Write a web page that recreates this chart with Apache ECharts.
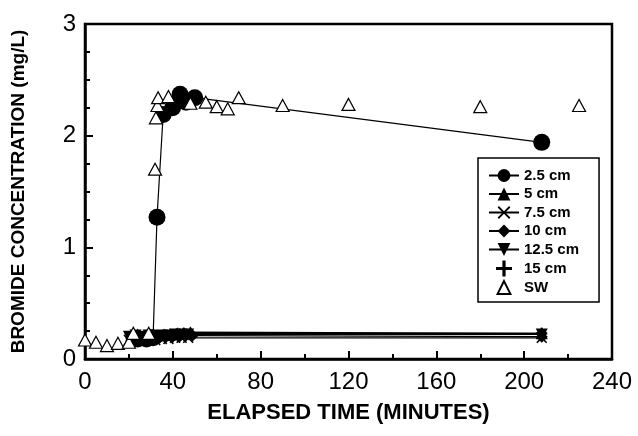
<!DOCTYPE html>
<html><head><meta charset="utf-8">
<script src="https://cdn.jsdelivr.net/npm/echarts@6/dist/echarts.min.js"></script>
<style>html,body{margin:0;padding:0;background:#fff}#c{width:638px;height:436px}</style>
</head><body><div id="c"></div>
<script>
// ---- data (time in minutes, bromide in mg/L) ----
const xTicks = [0, 40, 80, 120, 160, 200, 240];
const yTicks = [0, 1, 2, 3];
const seriesNames = ['2.5 cm', '5 cm', '7.5 cm', '10 cm', '12.5 cm', '15 cm', 'SW'];
const d25 = [[24,0.18],[28,0.18],[31,0.19],[32.8,1.27],[35.6,2.19],[39.9,2.25],[43.3,2.37],[46,2.30],[50,2.34],[208,1.94]];
const d50 = [[21,0.21],[24,0.22],[27,0.21],[30,0.22],[33,0.21],[36,0.22],[39,0.22],[42,0.23],[45,0.23],[48,0.24],[208,0.23]];
const d75 = [[20,0.17],[23,0.16],[26,0.17],[29,0.18],[32,0.17],[35,0.18],[38,0.18],[41,0.19],[44,0.19],[47,0.19],[208,0.19]];
const d100 = [[22,0.18],[25,0.19],[28,0.18],[31,0.19],[34,0.19],[37,0.20],[40,0.20],[43,0.20],[46,0.21],[49,0.21],[208,0.20]];
const d125 = [[20,0.20],[23,0.21],[26,0.20],[29,0.21],[32,0.20],[35,0.21],[38,0.21],[41,0.22],[44,0.22],[47,0.22],[208,0.22]];
const d150 = [[21,0.19],[24,0.20],[27,0.19],[30,0.20],[33,0.21],[36,0.21],[39,0.22],[42,0.22],[45,0.23],[48,0.23],[208,0.23]];
const dSW = [[0,0.17],[5,0.15],[10,0.12],[15,0.14],[20,0.15],[22,0.23],[29,0.23],[31.9,1.70],[32.3,2.16],[33,2.27],[33.3,2.34],[38,2.35],[48,2.29],[55,2.30],[60,2.26],[65,2.24],[70,2.34],[90,2.27],[120,2.28],[180,2.26],[225,2.27]];

const FONT = '"Liberation Sans", Arial, sans-serif';
const PLUS = 'path://M4,0H6V4H10V6H6V10H4V6H0V4H4Z';
const XMARK = 'path://M0,1L1,0L5,4L9,0L10,1L6,5L10,9L9,10L5,6L1,10L0,9L4,5Z';

function lineSeries(name, data, symbol, size, extra) {
  return Object.assign({
    name: name, type: 'line', data: data, symbol: symbol, symbolSize: size,
    showAllSymbol: true, animation: false,
    lineStyle: { color: '#000', width: 1.2 },
    itemStyle: { color: '#000', borderColor: '#000', borderWidth: 0 }
  }, extra || {});
}

const chart = echarts.init(document.getElementById('c'));
chart.setOption({
  animation: false,
  backgroundColor: '#fff',
  grid: { left: 85, right: 26, top: 24, bottom: 77, show: true, borderColor: '#000', borderWidth: 2.5 },
  xAxis: {
    type: 'value', min: xTicks[0], max: xTicks[xTicks.length - 1], interval: 40,
    name: 'ELAPSED TIME (MINUTES)', nameLocation: 'middle', nameGap: 43,
    nameTextStyle: { fontFamily: FONT, fontSize: 22, fontWeight: 'bold', color: '#000' },
    axisLine: { lineStyle: { color: '#000', width: 2.5 } },
    axisTick: { inside: true, length: 8, lineStyle: { color: '#000', width: 2 } },
    minorTick: { show: true, splitNumber: 2, length: 5, lineStyle: { color: '#000', width: 2 } },
    splitLine: { show: false },
    axisLabel: { fontFamily: FONT, fontSize: 24, color: '#000', margin: 11 }
  },
  yAxis: {
    type: 'value', min: yTicks[0], max: yTicks[yTicks.length - 1], interval: 1,
    name: 'BROMIDE CONCENTRATION (mg/L)', nameLocation: 'middle', nameGap: 57,
    nameTextStyle: { fontFamily: FONT, fontSize: 19, fontWeight: 'bold', color: '#000' },
    axisLine: { lineStyle: { color: '#000', width: 2.5 } },
    axisTick: { inside: true, length: 8, lineStyle: { color: '#000', width: 2 } },
    minorTick: { show: true, splitNumber: 4, length: 5, lineStyle: { color: '#000', width: 2 } },
    splitLine: { show: false },
    axisLabel: { fontFamily: FONT, fontSize: 24, color: '#000', margin: 9 }
  },
  legend: {
    orient: 'vertical', left: 478, top: 158,
    padding: [10, 20, 7, 10], itemWidth: 30, itemHeight: 16, itemGap: 3.5,
    backgroundColor: '#fff', borderColor: '#000', borderWidth: 1.5, borderRadius: 0,
    textStyle: { fontFamily: FONT, fontSize: 15, fontWeight: 'bold', color: '#000' },
    data: [
      { name: seriesNames[0] }, { name: seriesNames[1] }, { name: seriesNames[2] },
      { name: seriesNames[3] }, { name: seriesNames[4] },
      { name: seriesNames[5], icon: PLUS, itemStyle: { color: '#000' } },
      { name: seriesNames[6] }
    ]
  },
  series: [
    lineSeries(seriesNames[0], d25, 'circle', 17),
    lineSeries(seriesNames[1], d50, 'triangle', 12),
    lineSeries(seriesNames[2], d75, XMARK, 11),
    lineSeries(seriesNames[3], d100, 'diamond', 12),
    lineSeries(seriesNames[4], d125, 'triangle', 12, { symbolRotate: 180 }),
    lineSeries(seriesNames[5], d150, PLUS, 11),
    {
      name: seriesNames[6], type: 'line', data: dSW, symbol: 'triangle', symbolSize: [13, 12],
      showAllSymbol: true, lineStyle: { opacity: 0, width: 0 },
      itemStyle: { color: '#fff', borderColor: '#000', borderWidth: 1.2 }, z: 5
    }
  ]
});
</script></body></html>
